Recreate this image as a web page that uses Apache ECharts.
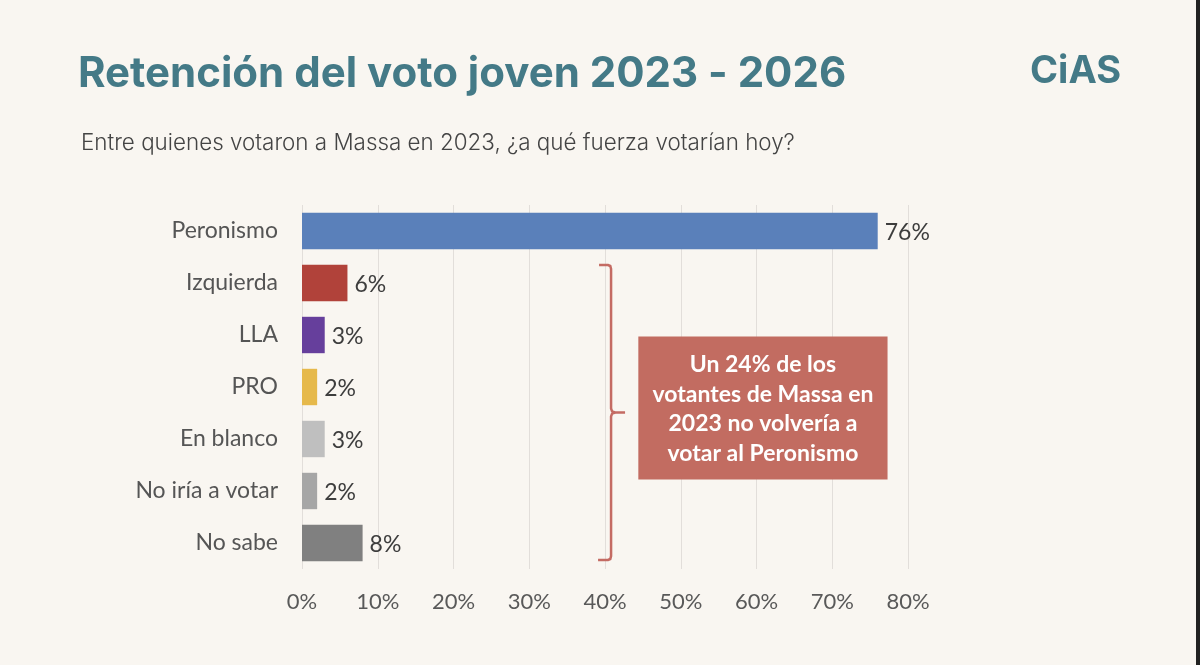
<!DOCTYPE html>
<html><head><meta charset="utf-8">
<script src="https://cdn.jsdelivr.net/npm/echarts@6/dist/echarts.min.js"></script>
<style>html,body{margin:0;padding:0;background:#f9f6f1;}#c{width:1200px;height:665px;}</style>
</head><body><div id="c"></div>
<script>
const categories = ['Peronismo','Izquierda','LLA','PRO','En blanco','No iría a votar','No sabe'];
const values = [76, 6, 3, 2, 3, 2, 8];
const barColors = ['#5a80ba','#b1423a','#663f9c','#e6b94b','#bfbfbf','#a6a6a6','#808080'];
const tickValues = [0,10,20,30,40,50,60,70,80];
const titleText = 'Retención del voto joven 2023 - 2026';
const subtitleText = 'Entre quienes votaron a Massa en 2023, ¿a qué fuerza votarían hoy?';
const noteLines = ['Un 24% de los','votantes de Massa en','2023 no volvería a','votar al Peronismo'];

const chart = echarts.init(document.getElementById('c'));
const option = {
  backgroundColor: '#f9f6f1',
  animation: false,
  title: [
    {text: titleText, left: 73, top: 48, textStyle:{fontFamily:'Inter', fontWeight:'bold', fontSize:42, color:'#447a87'}},
    {text: 'CiAS', left: 1025, top: 48, textStyle:{fontFamily:'Inter', fontWeight:'bold', fontSize:38, color:'#447a87'}},
    {text: subtitleText, left: 76, top: 127, textStyle:{fontFamily:'Inter', fontWeight:300, fontSize:22.4, color:'#444444'}}
  ],
  grid: {left: 302, right: 292, top: 205, bottom: 96, containLabel: false},
  xAxis: {
    type: 'value', min: 0, max: 80, interval: 10,
    axisLine: {show: false}, axisTick: {show: false},
    splitLine: {show: true, lineStyle: {color: '#e2deda', width: 1}},
    axisLabel: {formatter: v => tickValues.includes(v) ? v + '%' : '', margin: 22, fontFamily: 'Lato', fontSize: 22, color: '#595959'}
  },
  yAxis: {
    type: 'category', data: categories, inverse: true,
    axisLine: {show: false}, axisTick: {show: false},
    axisLabel: {margin: 24, fontFamily: 'Lato', fontSize: 23, color: '#555555'}
  },
  series: [{
    type: 'bar', barCategoryGap: '30%',
    data: values.map((v, i) => ({value: v, itemStyle: {color: barColors[i]}})),
    label: {show: true, position: 'right', distance: 7, offset: [0, 2], formatter: p => p.value + '%', fontFamily: 'Lato', fontSize: 23, color: '#3d3d3d'}
  }]
};
chart.setOption(option);

// bracket and note positioned from the axes
const yTop = chart.convertToPixel({yAxisIndex:0}, 'Izquierda') - 18;
const yBot = chart.convertToPixel({yAxisIndex:0}, 'No sabe') + 17;
const xB = chart.convertToPixel({xAxisIndex:0}, 40.8);
const yMid = (yTop + yBot) / 2;
const bx = chart.convertToPixel({xAxisIndex:0}, 44.4);
const bx2 = chart.convertToPixel({xAxisIndex:0}, 77.3);
const by = yMid - 76, by2 = yMid + 67;
const st = {stroke:'#c46b63', lineWidth:2.5, fill:null};
chart.setOption({
  graphic: [
    {type:'polyline', shape:{points:[[xB-12,yTop],[xB-3,yTop],[xB-0.8,yTop+1],[xB,yTop+4],[xB,yMid-4],[xB+1,yMid-1.2],[xB+4,yMid],[xB+14,yMid]]}, style:st},
    {type:'polyline', shape:{points:[[xB+4,yMid],[xB+1,yMid+1.2],[xB,yMid+4],[xB,yBot-4],[xB-0.8,yBot-1],[xB-3,yBot],[xB-13,yBot]]}, style:st},
    {type:'rect', shape:{x:bx, y:by, width:bx2-bx, height:by2-by}, style:{fill:'#c26c61'}},
    {type:'text', x:(bx+bx2)/2, y:(by+by2)/2 + 1, style:{text: noteLines.join('\n'), align:'center', verticalAlign:'middle', fill:'#ffffff', font:'bold 23px Lato', lineHeight:29.5}}
  ]
});
</script>
<div style="position:absolute;top:0;right:0;width:4px;height:665px;background:#222;"></div>
</body></html>
